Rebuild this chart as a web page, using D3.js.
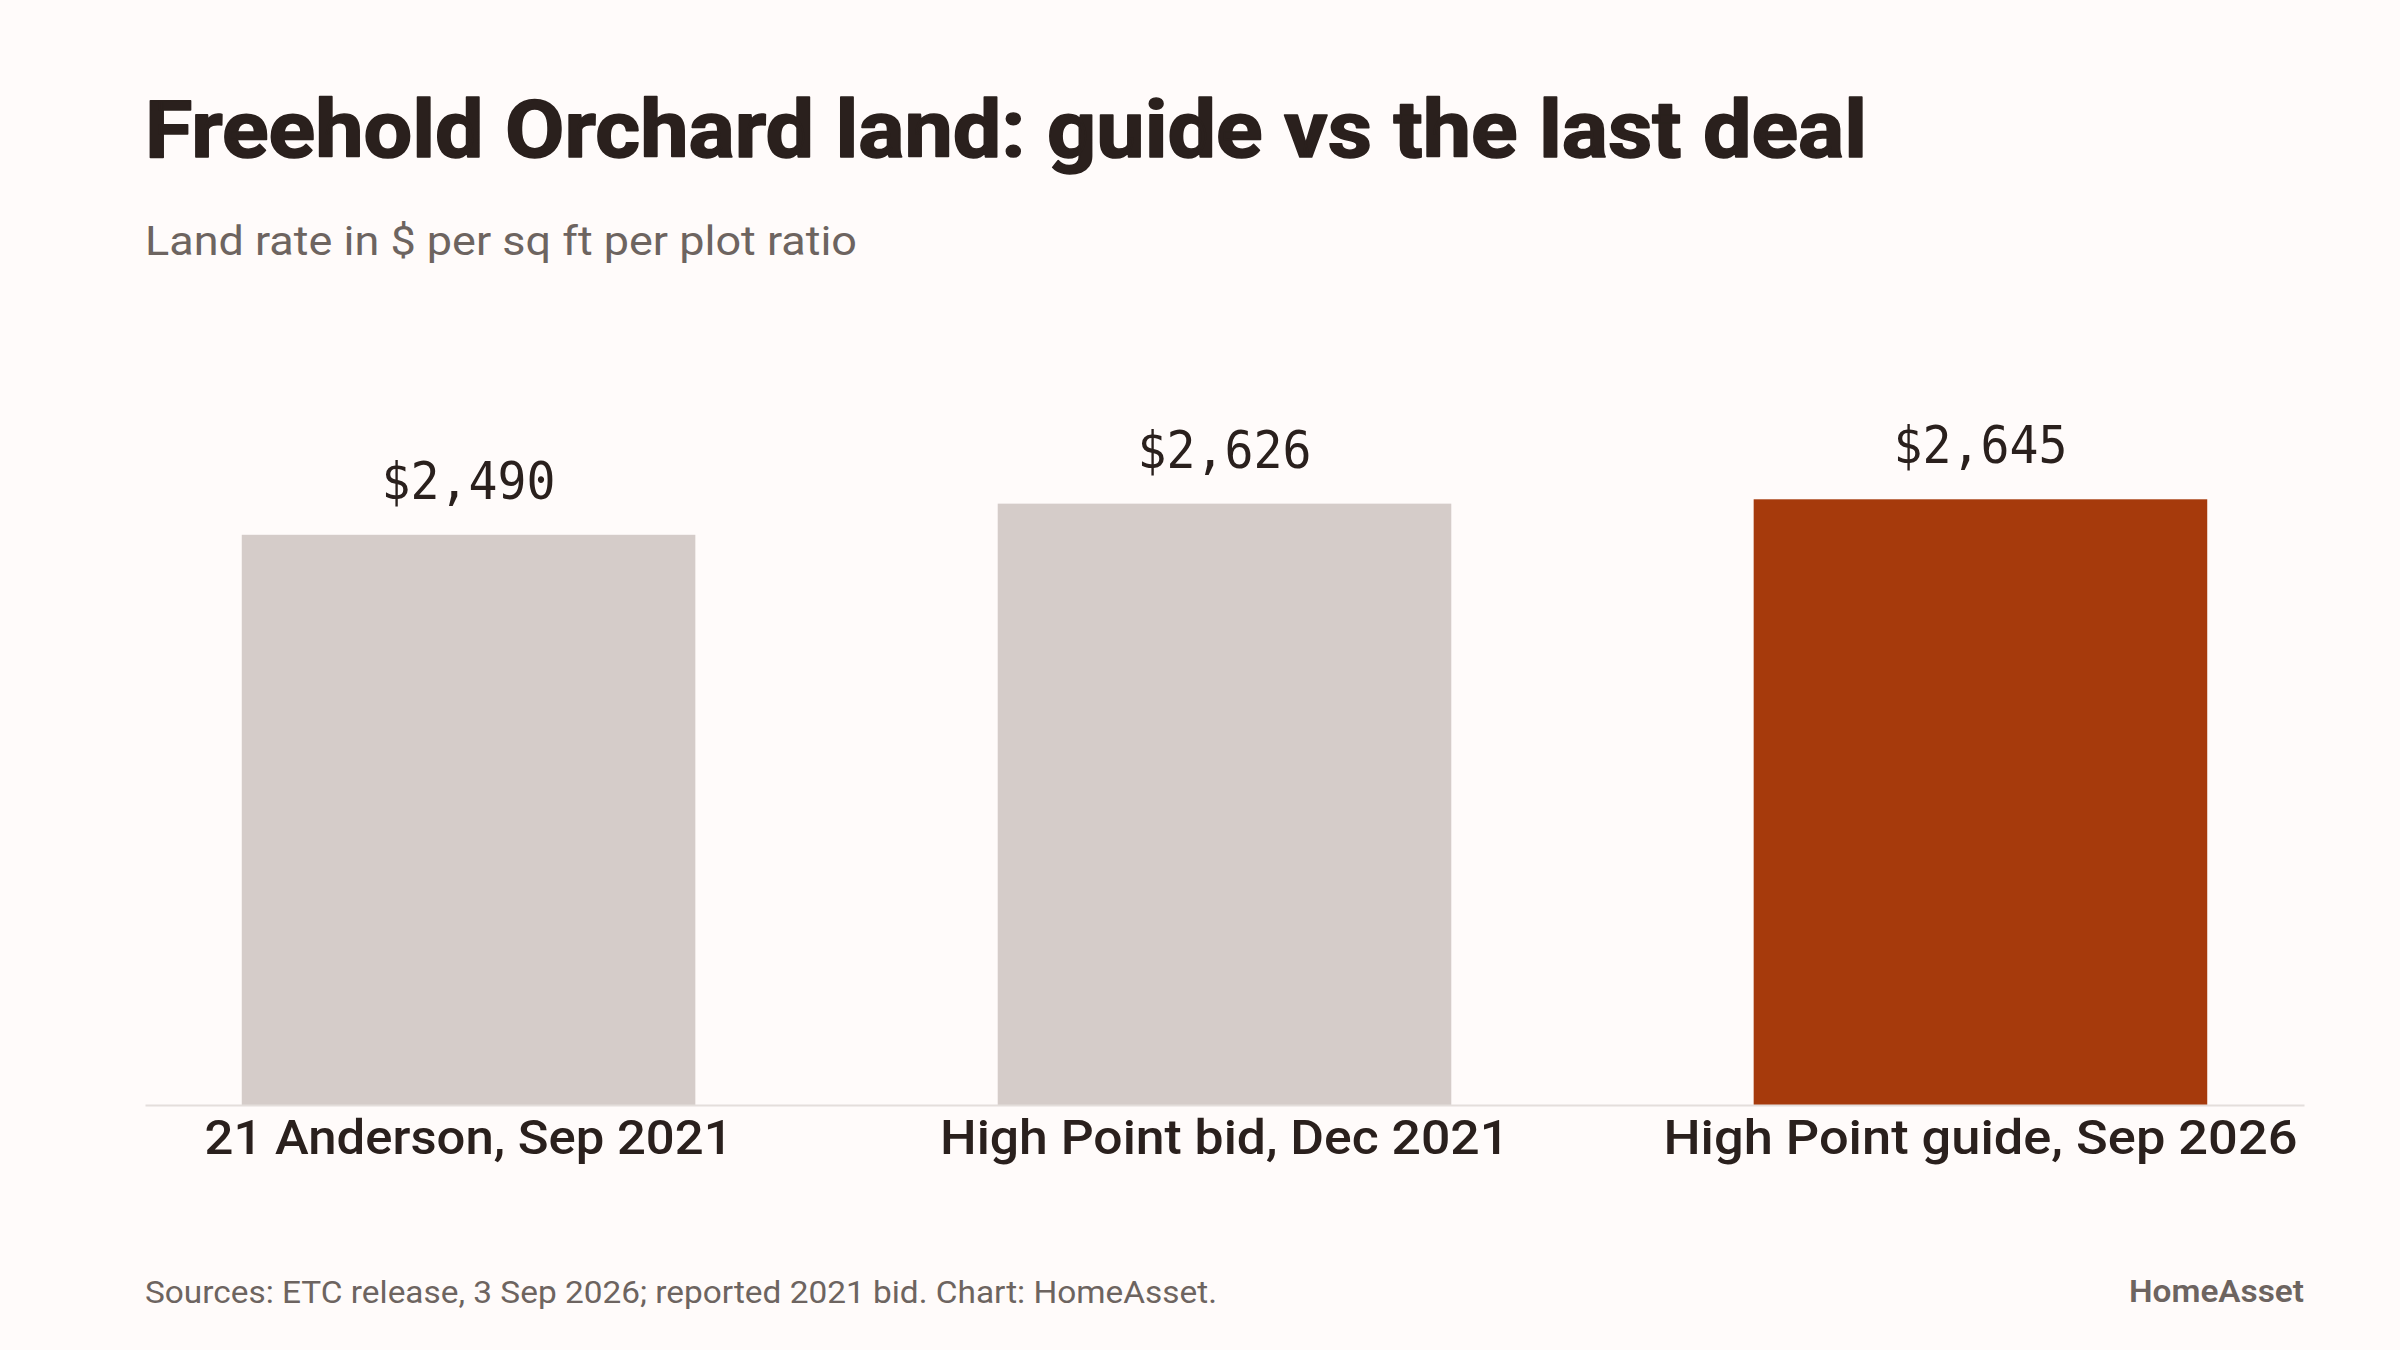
<!DOCTYPE html>
<html>
<head>
<meta charset="utf-8">
<script src="https://cdn.jsdelivr.net/npm/d3@7"></script>
<style>
  html, body { margin: 0; padding: 0; background: #fffbfa; }
  svg { display: block; }
</style>
</head>
<body>
<script>
// bar chart data
var categories = ["21 Anderson, Sep 2021", "High Point bid, Dec 2021", "High Point guide, Sep 2026"];
var values = [2490, 2626, 2645];
var highlight = [false, false, true];

var width = 2400;
var height = 1350;

var margin = {left:145, right:96, top:418, bottom:245};

// target widths to mimic the condensed face of the original
var labelWidths = [528, 569, 634];
var valueWidth = 174;

var sans = "Roboto, 'Noto Sans', sans-serif";
var mono = "'DejaVu Sans Mono', 'Liberation Mono', monospace";
var ink = "#2a201d";
var grey = "#6d6460";

var svg = d3.select("body").append("svg")
    .attr("width", width)
    .attr("height", height);

svg.append("rect").attr("width", width).attr("height", height).attr("fill", "#fffbfa");

// squeeze text horizontally to a given width
function fit(sel, w) {
  sel.attr("textLength", w).attr("lengthAdjust", "spacingAndGlyphs");
}

// title: a thin stroke makes the bold face look heavier
svg.append("text")
    .attr("x", 145).attr("y", 157)
    .attr("font-family", sans).attr("font-weight", 700).attr("font-size", 80)
    .attr("fill", ink)
    .attr("stroke", ink).attr("stroke-width", 1.6).attr("stroke-linejoin", "round")
    .text("Freehold Orchard land: guide vs the last deal")
    .call(fit, 1722);

svg.append("text")
    .attr("x", 145).attr("y", 255)
    .attr("font-family", sans).attr("font-size", 40)
    .attr("fill", grey)
    .text("Land rate in $ per sq ft per plot ratio")
    .call(fit, 712);

var x = d3.scaleBand()
    .domain(categories)
    .range([margin.left, width - margin.right])
    .paddingInner(0.4)
    .paddingOuter(0.128);

var y = d3.scaleLinear()
    .domain([0, 3000])
    .range([height - margin.bottom, margin.top]);

var bars = svg.append("g");

bars.selectAll("rect")
    .data(values)
    .enter().append("rect")
    .attr("x", function(d,i) { return x(categories[i]); })
    .attr("y", function(d) { return y(d); })
    .attr("width", x.bandwidth())
    .attr("height", function(d) { return y(0) - y(d); })
    .attr("fill", function(d,i) { return highlight[i] ? "#a63a0c" : "#d5ccc9"; });

var fmt = d3.format("$,");

bars.selectAll("text")
    .data(values)
    .enter().append("text")
    .attr("x", function(d,i) { return x(categories[i]) + x.bandwidth()/2; })
    .attr("y", function(d) { return y(d) - 36; })
    .attr("text-anchor", "middle")
    .attr("font-family", mono).attr("font-size", 51)
    .attr("fill", ink)
    .text(function(d) { return fmt(d); })
    .call(fit, valueWidth);

var xAxis = d3.axisBottom(x).tickSize(0).tickSizeOuter(0);

var axisG = svg.append("g")
    .attr("transform", "translate(0," + y(0) + ")")
    .call(xAxis);

axisG.select(".domain")
    .attr("stroke", "#e4dedb")
    .attr("stroke-width", 2);

axisG.selectAll(".tick text")
    .attr("y", 49).attr("dy", 0)
    .attr("font-family", sans).attr("font-weight", 500).attr("font-size", 49)
    .attr("fill", ink)
    .each(function(d,i) { d3.select(this).call(fit, labelWidths[i]); });

svg.append("text")
    .attr("x", 145).attr("y", 1303)
    .attr("font-family", sans).attr("font-size", 32)
    .attr("fill", grey)
    .text("Sources: ETC release, 3 Sep 2026; reported 2021 bid. Chart: HomeAsset.")
    .call(fit, 1072);

svg.append("text")
    .attr("x", 2304).attr("y", 1302)
    .attr("text-anchor", "end")
    .attr("font-family", sans).attr("font-weight", 600).attr("font-size", 32)
    .attr("fill", grey)
    .text("HomeAsset")
    .call(fit, 175);
</script>
</body>
</html>
